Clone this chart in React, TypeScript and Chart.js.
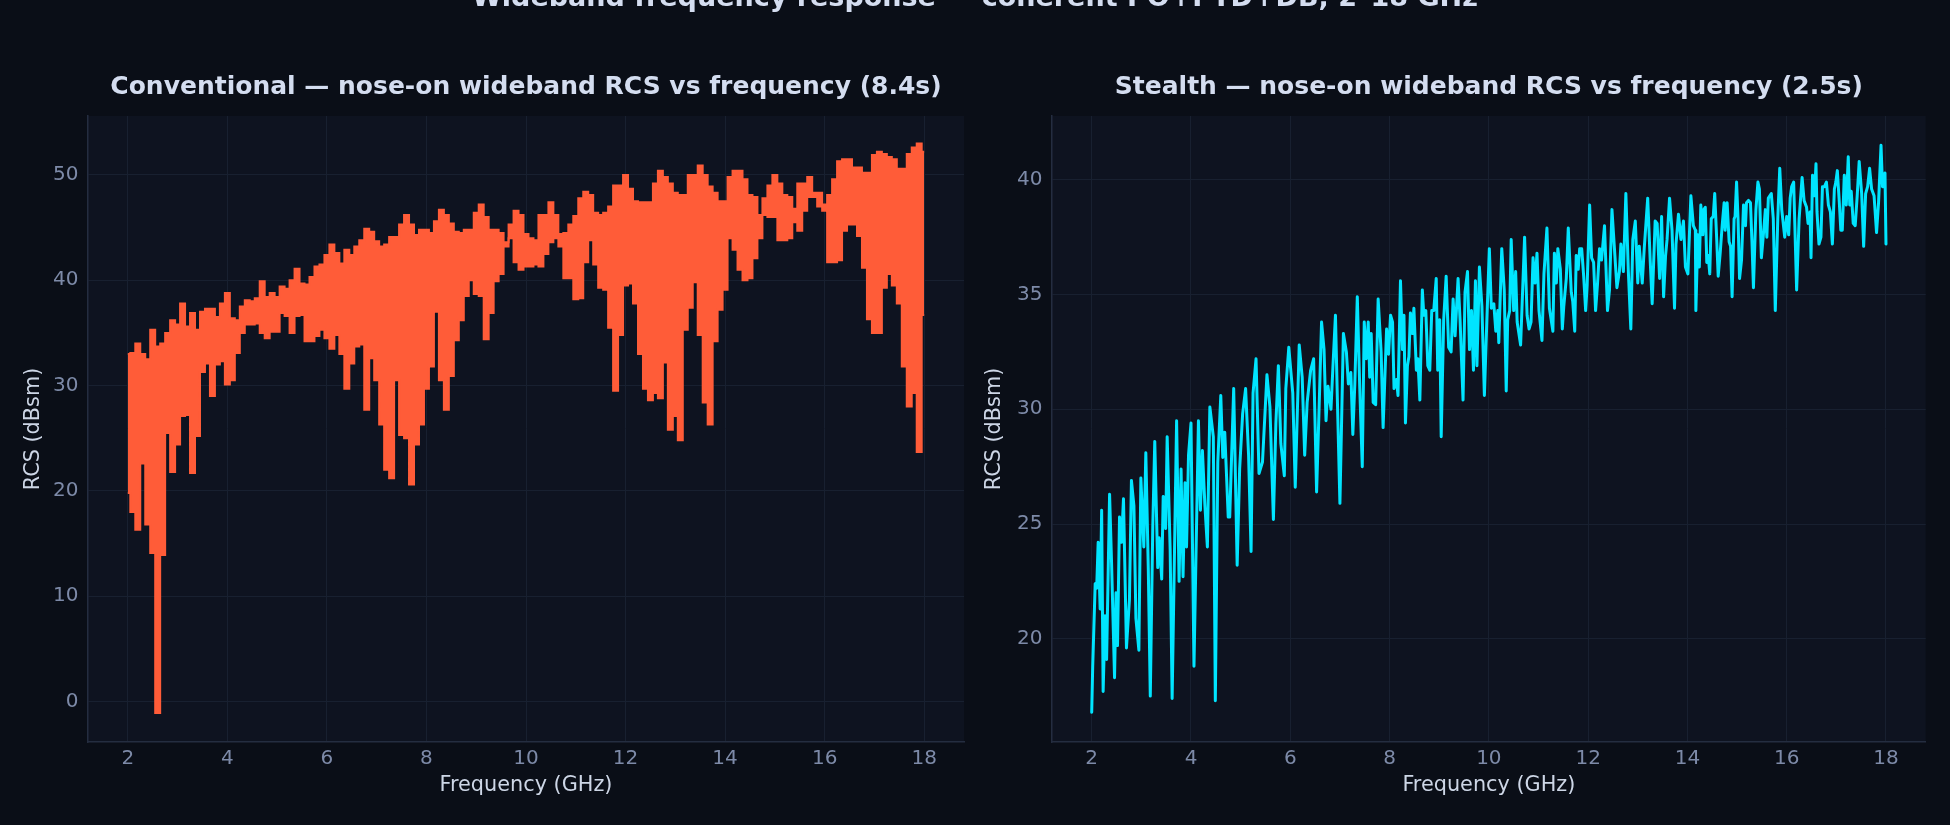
import React, { useEffect, useRef } from "react";
import { Chart, registerables } from "chart.js";

Chart.register(...registerables);

const FONT = "'DejaVu Sans', 'Liberation Sans', sans-serif";
const FIG_BG = "#0a0e17";
const AX_BG = "#0e1320";
const GRID = "#182030";
const SPINE = "#242d40";
const TICK_COLOR = "#7d8aa8";
const LABEL_COLOR = "#cdd6e6";
const TITLE_COLOR = "#d4ddf0";
const CONV_COLOR = "#ff5c38";
const STEALTH_COLOR = "#00e5ff";

const suptitle = "Wideband frequency response — coherent PO+PTD+DB, 2–18 GHz";
const convTitle = "Conventional — nose-on wideband RCS vs frequency (8.4s)";
const stealthTitle = "Stealth — nose-on wideband RCS vs frequency (2.5s)";
const xLabel = "Frequency (GHz)";
const yLabel = "RCS (dBsm)";

const xTicks = [2, 4, 6, 8, 10, 12, 14, 16, 18];
const convYTicks = [0, 10, 20, 30, 40, 50];
const stealthYTicks = [20, 25, 30, 35, 40];

// Conventional target: dense coherent sweep, kept as per-bin upper / lower envelope
const convFreq = [
  2.0, 2.1, 2.2, 2.3, 2.4, 2.5, 2.6, 2.7, 2.8, 2.9,
  3.0, 3.1, 3.2, 3.3, 3.4, 3.5, 3.6, 3.7, 3.8, 3.9,
  4.0, 4.1, 4.2, 4.3, 4.4, 4.5, 4.6, 4.7, 4.8, 4.9,
  5.0, 5.1, 5.2, 5.3, 5.4, 5.5, 5.6, 5.7, 5.8, 5.9,
  6.0, 6.1, 6.2, 6.3, 6.4, 6.5, 6.6, 6.7, 6.8, 6.9,
  7.0, 7.1, 7.2, 7.3, 7.4, 7.5, 7.6, 7.7, 7.8, 7.9,
  8.0, 8.1, 8.2, 8.3, 8.4, 8.5, 8.6, 8.7, 8.8, 8.9,
  9.0, 9.1, 9.2, 9.3, 9.4, 9.5, 9.6, 9.7, 9.8, 9.9,
  10.0, 10.1, 10.2, 10.3, 10.4, 10.5, 10.6, 10.7, 10.8, 10.9,
  11.0, 11.1, 11.2, 11.3, 11.4, 11.5, 11.6, 11.7, 11.8, 11.9,
  12.0, 12.1, 12.2, 12.3, 12.4, 12.5, 12.6, 12.7, 12.8, 12.9,
  13.0, 13.1, 13.2, 13.3, 13.4, 13.5, 13.6, 13.7, 13.8, 13.9,
  14.0, 14.1, 14.2, 14.3, 14.4, 14.5, 14.6, 14.7, 14.8, 14.9,
  15.0, 15.1, 15.2, 15.3, 15.4, 15.5, 15.6, 15.7, 15.8, 15.9,
  16.0, 16.1, 16.2, 16.3, 16.4, 16.5, 16.6, 16.7, 16.8, 16.9,
  17.0, 17.1, 17.2, 17.3, 17.4, 17.5, 17.6, 17.7, 17.8, 17.9,
  18.0,
];

const convUpper = [
  33.0, 33.1, 34.0, 33.0, 32.5, 35.3, 33.7, 34.0, 35.0, 36.2,
  35.8, 37.8, 35.6, 36.9, 35.3, 37.0, 37.3, 37.3, 36.5, 37.8,
  38.8, 36.4, 36.2, 37.5, 38.1, 38.0, 38.3, 39.9, 38.4, 38.8,
  38.4, 39.4, 39.2, 40.0, 41.1, 39.7, 39.6, 40.3, 41.3, 41.5,
  42.4, 43.4, 42.6, 41.6, 42.9, 42.4, 43.2, 43.8, 44.9, 44.6,
  43.7, 43.2, 43.4, 44.1, 44.1, 45.3, 46.2, 45.3, 44.3, 44.8,
  44.8, 44.5, 45.6, 46.7, 46.2, 45.4, 44.6, 44.5, 44.8, 44.8,
  46.4, 47.2, 46.0, 44.8, 44.8, 44.5, 43.2, 45.3, 46.6, 46.2,
  44.4, 44.0, 43.8, 46.2, 46.2, 47.4, 46.2, 44.4, 44.5, 45.3,
  46.1, 47.8, 48.4, 48.1, 46.4, 46.2, 46.4, 47.0, 49.0, 49.0,
  50.0, 48.7, 47.5, 47.4, 47.4, 47.4, 49.2, 50.4, 49.8, 49.2,
  48.3, 48.1, 48.1, 50.0, 50.0, 50.9, 50.0, 48.9, 48.3, 47.5,
  47.5, 49.8, 50.4, 50.4, 49.6, 48.1, 47.9, 46.2, 47.8, 49.0,
  50.0, 49.2, 48.1, 47.9, 46.8, 49.2, 49.2, 49.8, 48.3, 48.3,
  47.2, 48.1, 49.6, 51.3, 51.5, 51.5, 50.7, 50.7, 50.2, 50.2,
  51.9, 52.2, 52.0, 51.7, 51.5, 50.6, 50.6, 52.0, 52.6, 53.0,
  52.2,
];

const convLower = [
  19.8, 18.0, 16.3, 22.6, 16.8, 14.1, -1.1, 13.9, 25.5, 21.8,
  24.4, 27.1, 27.2, 21.7, 25.2, 31.3, 32.1, 29.0, 32.0, 32.3,
  30.1, 30.5, 33.1, 35.0, 35.8, 35.8, 35.9, 35.0, 34.5, 35.1,
  35.1, 36.9, 36.6, 35.0, 36.6, 36.7, 34.2, 34.2, 34.7, 35.3,
  34.5, 33.5, 34.8, 33.0, 29.7, 32.1, 33.7, 33.9, 27.7, 32.6,
  30.5, 26.3, 22.0, 21.2, 30.5, 25.3, 25.0, 20.6, 24.4, 26.3,
  29.7, 31.8, 37.0, 30.5, 27.7, 30.9, 34.3, 36.2, 38.5, 40.0,
  38.7, 38.5, 34.4, 36.9, 39.9, 40.6, 43.6, 44.0, 41.7, 41.0,
  41.3, 41.3, 41.5, 41.3, 42.5, 43.6, 44.0, 43.2, 40.2, 40.2,
  38.2, 38.3, 41.7, 43.8, 41.5, 39.3, 39.1, 35.5, 29.5, 34.8,
  39.5, 39.7, 37.8, 33.0, 29.7, 28.6, 29.3, 28.8, 32.2, 25.8,
  27.1, 24.8, 35.3, 37.4, 39.8, 34.8, 28.4, 26.3, 34.2, 37.2,
  39.1, 44.0, 42.9, 41.0, 40.0, 40.2, 42.1, 44.0, 46.2, 46.0,
  46.0, 43.8, 43.8, 44.0, 45.5, 44.7, 46.6, 47.9, 47.9, 47.0,
  46.6, 41.7, 41.7, 41.9, 44.7, 45.3, 45.3, 44.2, 41.2, 36.3,
  35.0, 35.0, 39.3, 40.6, 39.5, 37.8, 31.8, 28.0, 29.3, 23.7,
  36.7,
];

// Stealth target: sampled sweep
const stealthFreq = [
  2.00, 2.02, 2.07, 2.10, 2.13, 2.17, 2.20, 2.23, 2.27, 2.30,
  2.36, 2.40, 2.46, 2.49, 2.52, 2.56, 2.60, 2.64, 2.70, 2.76,
  2.80, 2.85, 2.89, 2.95, 2.99, 3.05, 3.09, 3.14, 3.18, 3.23,
  3.27, 3.33, 3.36, 3.41, 3.44, 3.49, 3.52, 3.58, 3.62, 3.71,
  3.76, 3.80, 3.84, 3.88, 3.91, 3.95, 4.00, 4.06, 4.15, 4.19,
  4.23, 4.28, 4.33, 4.38, 4.45, 4.49, 4.54, 4.60, 4.64, 4.68,
  4.75, 4.78, 4.86, 4.93, 4.98, 5.04, 5.10, 5.16, 5.21, 5.25,
  5.31, 5.37, 5.44, 5.53, 5.59, 5.66, 5.71, 5.76, 5.81, 5.88,
  5.91, 5.97, 6.01, 6.05, 6.10, 6.18, 6.24, 6.29, 6.34, 6.41,
  6.47, 6.53, 6.58, 6.63, 6.68, 6.72, 6.76, 6.82, 6.86, 6.91,
  6.95, 7.00, 7.07, 7.13, 7.17, 7.22, 7.26, 7.30, 7.35, 7.40,
  7.45, 7.49, 7.53, 7.57, 7.60, 7.63, 7.67, 7.72, 7.77,
  7.83, 7.87, 7.94, 7.98, 8.02, 8.06, 8.09, 8.14, 8.17, 8.22,
  8.26, 8.29, 8.32, 8.36, 8.39, 8.42, 8.46, 8.49, 8.54, 8.57,
  8.61, 8.66, 8.69, 8.73, 8.77, 8.81, 8.85, 8.89, 8.94, 8.97,
  9.01, 9.04, 9.09, 9.14, 9.19, 9.24, 9.28, 9.32, 9.38, 9.42,
  9.48, 9.52, 9.57, 9.61, 9.65, 9.69, 9.73, 9.76, 9.81, 9.86,
  9.91, 9.96, 10.01, 10.05, 10.10, 10.14, 10.18, 10.20, 10.26, 10.31,
  10.35, 10.38, 10.42, 10.45, 10.50, 10.54, 10.57, 10.64, 10.72, 10.77,
  10.81, 10.85, 10.89, 10.93, 10.97, 11.01, 11.07, 11.11, 11.17, 11.22,
  11.29, 11.32, 11.36, 11.39, 11.44, 11.48, 11.51, 11.56, 11.60, 11.66,
  11.69, 11.73, 11.76, 11.80, 11.83, 11.87, 11.91, 11.95, 11.98, 12.03,
  12.07, 12.11, 12.15, 12.19, 12.23, 12.27, 12.33, 12.39, 12.43, 12.48,
  12.53, 12.58, 12.63, 12.66, 12.71, 12.76, 12.81, 12.86, 12.90, 12.95,
  13.00, 13.03, 13.09, 13.13, 13.20, 13.25, 13.29, 13.35, 13.39, 13.44,
  13.48, 13.52, 13.56, 13.59, 13.64, 13.69, 13.74, 13.77, 13.82, 13.87,
  13.92, 13.96, 14.01,
  14.07, 14.12, 14.16, 14.17, 14.21, 14.24, 14.27, 14.31, 14.33, 14.36,
  14.39, 14.42, 14.45, 14.48, 14.52, 14.55, 14.59, 14.62, 14.66, 14.70,
  14.74, 14.76, 14.80, 14.84, 14.87, 14.90, 14.94, 14.96, 14.99, 15.02,
  15.05, 15.09, 15.13, 15.17, 15.19, 15.23, 15.27, 15.30, 15.33, 15.38,
  15.42, 15.45, 15.49, 15.53, 15.57, 15.60, 15.63, 15.69, 15.73, 15.77,
  15.82, 15.86, 15.90, 15.96, 16.00, 16.04, 16.07, 16.10, 16.14, 16.20,
  16.25, 16.31, 16.35, 16.40, 16.43, 16.47, 16.49, 16.52, 16.56, 16.59,
  16.61, 16.65, 16.69, 16.72, 16.76, 16.80, 16.84, 16.88, 16.92, 16.96,
  16.99, 17.02, 17.06, 17.09, 17.12, 17.16, 17.20, 17.24, 17.27, 17.30,
  17.34, 17.38, 17.42, 17.46, 17.51, 17.55, 17.59, 17.63, 17.67, 17.71,
  17.76, 17.81, 17.85, 17.90, 17.93, 17.95, 17.98, 18.00,
];

const stealthRcs = [
  16.8, 18.8, 22.4, 22.2, 24.2, 21.3, 25.6, 17.7, 21.0, 19.1,
  26.3, 23.3, 18.3, 22.0, 19.7, 25.3, 24.2, 26.1, 19.6, 21.7,
  26.9, 25.8, 20.9, 19.5, 27.0, 24.0, 28.1, 23.0, 17.5, 24.9,
  28.6, 23.1, 24.4, 22.6, 26.2, 24.8, 28.8, 23.9, 17.4, 29.5,
  22.5, 27.4, 22.7, 26.8, 24.0, 28.0, 29.4, 18.8, 29.5, 25.6,
  28.2, 25.8, 24.0, 30.1, 28.8, 17.3, 27.7, 30.6, 27.9, 29.0,
  25.3, 25.3, 30.9, 23.2, 27.4, 29.8, 30.9, 28.0, 23.8, 30.7,
  32.2, 27.2, 27.7, 31.5, 30.1, 25.2, 29.4, 31.9, 28.5, 27.1,
  30.9, 32.7, 31.7, 30.7, 26.6, 32.8, 31.4, 28.0, 30.3, 31.7,
  32.2, 26.4, 30.0, 33.8, 32.6, 29.5, 31.0, 30.0, 31.9, 34.1,
  30.3, 25.9, 33.3, 32.5, 31.1, 31.6, 28.9, 31.1, 34.9, 30.9,
  27.5, 33.8, 32.2, 33.8, 31.4, 33.3, 30.3, 30.2, 34.8,
  32.5, 29.2, 33.5, 32.4, 34.1, 33.8, 30.9, 31.3, 30.6, 35.6,
  32.6, 34.1, 29.4, 31.9, 32.3, 34.2, 33.3, 34.4, 31.7, 32.2,
  30.4, 35.2, 34.1, 34.3, 31.9, 31.7, 34.3, 34.3, 35.7, 31.7,
  33.9, 28.8, 33.9, 35.8, 32.7, 32.5, 34.8, 33.2, 35.7, 33.9,
  30.4, 35.1, 36.0, 32.6, 34.3, 31.7, 35.6, 31.9, 36.2, 34.5,
  30.6, 33.9, 37.0, 34.4, 34.6, 33.4, 34.3, 32.9, 37.0, 35.2,
  30.8, 33.9, 34.3, 37.4, 34.3, 36.0, 33.8, 32.8, 37.5, 34.1,
  33.5, 33.8, 36.6, 35.5, 36.8, 34.3, 33.0, 35.9, 37.9, 34.4,
  33.4, 36.8, 35.5, 37.0, 36.1, 33.5, 34.5, 35.7, 37.9, 35.1,
  34.7, 33.4, 36.7, 36.1, 37.0, 37.0, 35.8, 34.3, 35.4, 38.9,
  36.6, 36.4, 34.3, 35.5, 37.0, 36.5, 38.0, 34.3, 35.2, 38.7,
  37.0, 35.3, 36.0, 37.2, 36.0, 39.4, 36.0, 33.5, 37.4, 38.2,
  35.5, 37.1, 35.5, 37.0, 39.2, 36.5, 34.6, 38.2, 38.1, 35.7,
  38.4, 34.9, 36.7, 37.4, 39.2, 37.8, 34.4, 37.2, 38.5, 37.4,
  38.2, 36.2, 35.9,
  39.3, 38.0, 37.8, 34.3, 37.6, 36.2, 38.9, 37.6, 38.7, 38.8,
  36.4, 36.7, 35.9, 38.3, 38.4, 39.4, 37.4, 35.8, 36.8, 38.0,
  39.0, 37.8, 39.0, 37.3, 37.1, 34.9, 38.3, 38.4, 39.9, 38.3,
  35.7, 36.5, 38.9, 38.0, 39.0, 39.1, 39.0, 37.3, 35.3, 38.7,
  39.9, 39.6, 36.6, 37.6, 38.7, 37.5, 39.2, 39.4, 38.3, 34.3,
  38.3, 40.5, 38.7, 37.5, 38.4, 37.6, 39.2, 39.7, 39.9, 35.2,
  38.3, 40.1, 39.1, 38.8, 38.1, 38.6, 36.6, 40.2, 39.3, 40.7,
  38.6, 37.2, 37.5, 39.7, 39.7, 39.9, 38.9, 38.6, 37.2, 39.6,
  39.9, 40.4, 39.0, 37.8, 37.8, 40.2, 38.9, 41.0, 38.9, 39.5,
  38.1, 38.0, 39.3, 40.8, 39.4, 37.1, 39.4, 39.7, 40.5, 39.6,
  39.3, 37.7, 39.0, 41.5, 39.7, 39.7, 40.3, 37.2,
];

const areaBg = {
  id: "areaBg",
  beforeDraw(chart: any) {
    const { ctx, chartArea } = chart;
    ctx.save();
    ctx.fillStyle = FIG_BG;
    ctx.fillRect(0, 0, chart.width, chart.height);
    ctx.fillStyle = AX_BG;
    ctx.fillRect(
      chartArea.left,
      chartArea.top,
      chartArea.right - chartArea.left,
      chartArea.bottom - chartArea.top
    );
    ctx.restore();
  },
};

function pts(xs: number[], ys: number[]) {
  return xs.map((x, i) => ({ x, y: ys[i] }));
}

function makeOptions(p: {
  title: string;
  yMin: number;
  yMax: number;
  yTicks: number[];
  yAxisWidth: number;
  yTitlePad: number;
  padRight: number;
}) {
  return {
    responsive: false,
    animation: false as const,
    devicePixelRatio: 1,
    events: [],
    layout: { padding: { left: 0, right: p.padRight, top: 0, bottom: 0 } },
    plugins: {
      legend: { display: false },
      tooltip: { enabled: false },
      title: {
        display: true,
        text: p.title,
        color: TITLE_COLOR,
        fullSize: false,
        font: { family: FONT, size: 25, weight: "bold" as const, lineHeight: 1.2 },
        padding: { top: 72, bottom: 14 },
      },
    },
    scales: {
      x: {
        type: "linear" as const,
        min: 1.2,
        max: 18.8,
        afterBuildTicks: (s: any) => {
          s.ticks = xTicks.map((v) => ({ value: v }));
        },
        afterFit: (s: any) => {
          s.height = 83;
        },
        grid: { color: GRID, lineWidth: 1, drawTicks: false },
        border: { display: true, color: SPINE, width: 1.5 },
        ticks: {
          color: TICK_COLOR,
          font: { family: FONT, size: 20, lineHeight: 1.2 },
          padding: 5,
          maxRotation: 0,
          autoSkip: false,
          callback: (v: any) => String(v),
        },
        title: {
          display: true,
          text: xLabel,
          color: LABEL_COLOR,
          font: { family: FONT, size: 20.8, lineHeight: 1.2 },
          padding: { top: 0, bottom: 26.5 },
        },
      },
      y: {
        type: "linear" as const,
        min: p.yMin,
        max: p.yMax,
        afterBuildTicks: (s: any) => {
          s.ticks = p.yTicks.map((v) => ({ value: v }));
        },
        afterFit: (s: any) => {
          s.width = p.yAxisWidth;
        },
        grid: { color: GRID, lineWidth: 1, drawTicks: false },
        border: { display: true, color: SPINE, width: 1.5 },
        ticks: {
          color: TICK_COLOR,
          font: { family: FONT, size: 20, lineHeight: 1.2 },
          padding: 9.5,
          autoSkip: false,
          callback: (v: any) => String(v),
        },
        title: {
          display: true,
          text: yLabel,
          color: LABEL_COLOR,
          font: { family: FONT, size: 20.8, lineHeight: 1.2 },
          padding: { top: p.yTitlePad, bottom: 0 },
        },
      },
    },
  };
}

export default function App() {
  const leftRef = useRef<HTMLCanvasElement | null>(null);
  const rightRef = useRef<HTMLCanvasElement | null>(null);

  useEffect(() => {
    document.body.style.margin = "0";
    document.body.style.background = FIG_BG;

    const left = new Chart(leftRef.current as HTMLCanvasElement, {
      type: "line",
      data: {
        datasets: [
          {
            label: "Conventional (lower)",
            data: pts(convFreq, convLower),
            borderColor: CONV_COLOR,
            backgroundColor: CONV_COLOR,
            borderWidth: 2,
            pointRadius: 0,
            stepped: "middle",
            fill: false,
          },
          {
            label: "Conventional (upper)",
            data: pts(convFreq, convUpper),
            borderColor: CONV_COLOR,
            backgroundColor: CONV_COLOR,
            borderWidth: 2,
            pointRadius: 0,
            stepped: "middle",
            fill: "-1",
          },
        ],
      },
      options: makeOptions({
        title: convTitle,
        yMin: -3.85,
        yMax: 55.6,
        yTicks: convYTicks,
        yAxisWidth: 88,
        yTitlePad: 21.5,
        padRight: 11,
      }) as any,
      plugins: [areaBg],
    });

    const right = new Chart(rightRef.current as HTMLCanvasElement, {
      type: "line",
      data: {
        datasets: [
          {
            label: "Stealth",
            data: pts(stealthFreq, stealthRcs),
            borderColor: STEALTH_COLOR,
            backgroundColor: STEALTH_COLOR,
            borderWidth: 3,
            borderJoinStyle: "round",
            borderCapStyle: "round",
            pointRadius: 0,
            tension: 0,
            fill: false,
          },
        ],
      },
      options: makeOptions({
        title: stealthTitle,
        yMin: 15.5,
        yMax: 42.78,
        yTicks: stealthYTicks,
        yAxisWidth: 77,
        yTitlePad: 7.5,
        padRight: 24.3,
      }) as any,
      plugins: [areaBg],
    });

    return () => {
      left.destroy();
      right.destroy();
    };
  }, []);

  return (
    <div
      style={{
        position: "fixed",
        left: 0,
        top: 0,
        width: 1950,
        height: 825,
        background: FIG_BG,
        overflow: "hidden",
      }}
    >
      <canvas
        ref={leftRef}
        width={975}
        height={825}
        style={{ position: "absolute", left: 0, top: 0, width: 975, height: 825 }}
      />
      <canvas
        ref={rightRef}
        width={975}
        height={825}
        style={{ position: "absolute", left: 975, top: 0, width: 975, height: 825 }}
      />
      <div
        style={{
          position: "absolute",
          left: 0,
          top: -17,
          width: 1950,
          textAlign: "center",
          fontFamily: FONT,
          fontWeight: "bold",
          fontSize: 27,
          lineHeight: "27px",
          color: TITLE_COLOR,
          whiteSpace: "nowrap",
        }}
      >
        {suptitle}
      </div>
    </div>
  );
}
